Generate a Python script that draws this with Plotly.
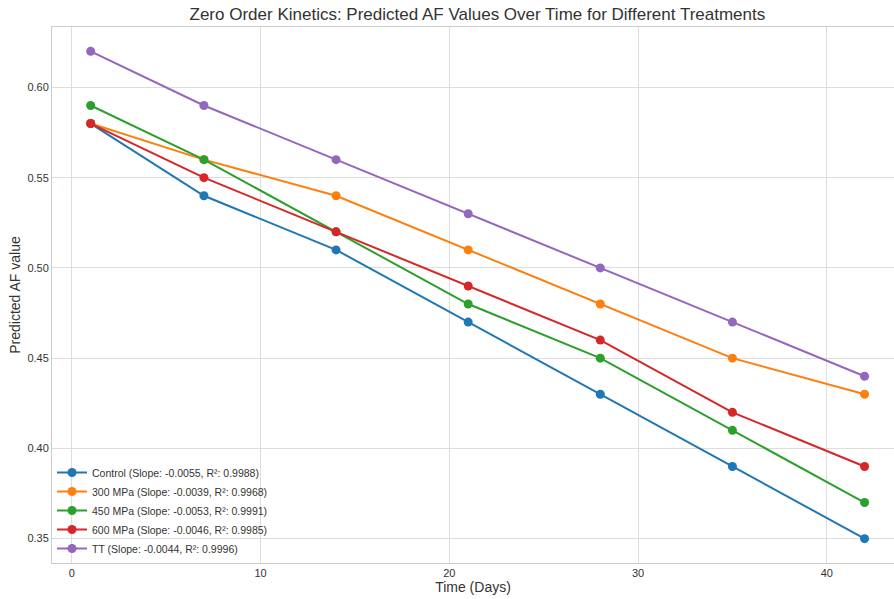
import plotly.graph_objects as go

days = [1, 7, 14, 21, 28, 35, 42]
control = [0.58, 0.54, 0.51, 0.47, 0.43, 0.39, 0.35]
mpa300 = [0.58, 0.56, 0.54, 0.51, 0.48, 0.45, 0.43]
mpa450 = [0.59, 0.56, 0.52, 0.48, 0.45, 0.41, 0.37]
mpa600 = [0.58, 0.55, 0.52, 0.49, 0.46, 0.42, 0.39]
tt = [0.62, 0.59, 0.56, 0.53, 0.50, 0.47, 0.44]

names = [
    "Control (Slope: -0.0055, R²: 0.9988)",
    "300 MPa (Slope: -0.0039, R²: 0.9968)",
    "450 MPa (Slope: -0.0053, R²: 0.9991)",
    "600 MPa (Slope: -0.0046, R²: 0.9985)",
    "TT (Slope: -0.0044, R²: 0.9996)",
]
series = [control, mpa300, mpa450, mpa600, tt]
colors = ["#1f77b4", "#ff7f0e", "#2ca02c", "#d62728", "#9467bd"]

fig = go.Figure()
for n, s, c in zip(names, series, colors):
    fig.add_trace(go.Scatter(x=days, y=s, name=n, mode="lines+markers",
                             line=dict(color=c, width=2),
                             marker=dict(color=c, size=9)))

axis_common = dict(showgrid=True, gridcolor="#dddddd", gridwidth=1,
                   showline=True, linecolor="#cccccc", linewidth=1, mirror=True,
                   zeroline=False, ticks="", tickfont=dict(size=11, color="#333333"))

fig.update_layout(
    width=894, height=599,
    margin=dict(l=52, r=0, t=27, b=36),
    paper_bgcolor="white", plot_bgcolor="white",
    font=dict(family="Liberation Sans, Arial, sans-serif", color="#333333"),
    title=dict(text="Zero Order Kinetics: Predicted AF Values Over Time for Different Treatments",
               x=0.534, xanchor="center", y=0.977, yanchor="middle",
               font=dict(size=17, color="#333333")),
    xaxis=dict(range=[-1.05, 43.56], tickvals=[0, 10, 20, 30, 40],
               title=dict(text="Time (Days)", font=dict(size=14), standoff=3), **axis_common),
    yaxis=dict(range=[0.3365, 0.6335], tickvals=[0.35, 0.40, 0.45, 0.50, 0.55, 0.60],
               tickformat=".2f",
               title=dict(text="Predicted AF value", font=dict(size=14), standoff=3), **axis_common),
    legend=dict(x=0.0, y=0.0, xanchor="left", yanchor="bottom",
                bgcolor="rgba(255,255,255,0)", font=dict(size=10.5, color="#333333"),
                tracegroupgap=0, itemwidth=30),
    showlegend=True,
)

fig.write_html("out.html")
